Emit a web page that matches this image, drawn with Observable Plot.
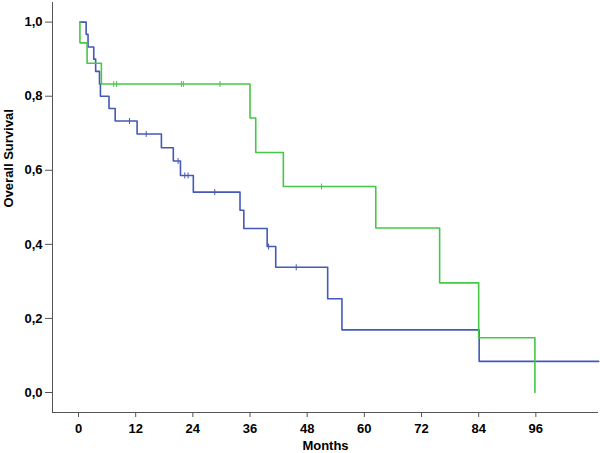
<!DOCTYPE html>
<html>
<head>
<meta charset="utf-8">
<script src="https://cdn.jsdelivr.net/npm/d3@7"></script>
<script src="https://cdn.jsdelivr.net/npm/@observablehq/plot@0.6"></script>
<style>
  html, body { margin: 0; padding: 0; background: #fff; }
  #chart svg { display: block; }
</style>
</head>
<body>
<div id="chart"></div>
<script>
// Kaplan–Meier steps, group A (blue)
const blueTimes  = [0.3, 1.6, 2.0, 3.2, 3.6, 4.4, 4.6, 6.4, 7.7, 12.3, 17.4, 19.9, 21.4, 24.1, 33.9, 34.7, 39.6, 41.4, 52.3, 55.3, 84.1, 109.2];
const blueSurv   = [1.0, 0.967, 0.933, 0.9, 0.867, 0.833, 0.8, 0.767, 0.733, 0.698, 0.661, 0.625, 0.586, 0.541, 0.492, 0.443, 0.394, 0.338, 0.253, 0.169, 0.084, 0.084];
const blueCensor = [10.7, 14.2, 20.9, 22.3, 23.0, 28.6, 39.9, 45.7];

// group B (green)
const greenTimes  = [0.3, 0.3, 1.8, 4.8, 36.0, 37.2, 43.0, 62.4, 75.8, 84.0, 95.8];
const greenSurv   = [1.0, 0.944, 0.889, 0.833, 0.741, 0.648, 0.556, 0.444, 0.296, 0.148, 0.0];
const greenCensor = [7.4, 8.0, 21.6, 22.0, 29.7, 51.0];

const xTicks = [0, 12, 24, 36, 48, 60, 72, 84, 96];
const yTicks = [0, 0.2, 0.4, 0.6, 0.8, 1.0];
const xDomain = [-5.46, 109.15];
const yDomain = [-0.054, 1.053];
const xLabel = "Months";
const yLabel = "Overall Survival";

const blueColor = "#4459b8";
const greenColor = "#45c845";

function steps(times, surv, group) {
  return times.map((t, i) => ({t, s: surv[i], group}));
}
function survAt(times, surv, t) {
  let v = surv[0];
  for (let i = 0; i < times.length; i++) if (times[i] <= t) v = surv[i];
  return v;
}
function censors(ct, times, surv, group) {
  return ct.map(t => ({t, s: survAt(times, surv, t), group}));
}

const blueData = steps(blueTimes, blueSurv, "A");
const greenData = steps(greenTimes, greenSurv, "B");
const blueCens = censors(blueCensor, blueTimes, blueSurv, "A");
const greenCens = censors(greenCensor, greenTimes, greenSurv, "B");

const vbar = {
  draw(context, size) {
    const h = Math.sqrt(size / Math.PI);
    context.moveTo(0, -h);
    context.lineTo(0, h);
  }
};

const chart = Plot.plot({
  width: 600,
  height: 453,
  marginLeft: 52,
  marginRight: 2,
  marginTop: 2,
  marginBottom: 41,
  style: {fontFamily: "'Liberation Sans', Arial, sans-serif", fontSize: "13px", fontWeight: "bold", color: "#000", background: "#fff"},
  x: {domain: xDomain},
  y: {domain: yDomain},
  marks: [
    Plot.axisX({ticks: xTicks, tickSize: 5, tickPadding: 6, stroke: "#555", label: null, fill: "#000"}),
    Plot.axisY({ticks: yTicks, tickSize: 7, tickPadding: 3, stroke: "#555", tickFormat: d => d.toFixed(1).replace(".", ","), label: null, fill: "#000"}),
    Plot.text([xLabel], {frameAnchor: "bottom", text: d => d, dy: 33, lineAnchor: "middle", fill: "#000"}),
    Plot.text([yLabel], {frameAnchor: "left", text: d => d, dx: -44, rotate: -90, lineAnchor: "middle", fill: "#000"}),
    Plot.ruleX([xDomain[0]], {stroke: "#555", strokeWidth: 1}),
    Plot.ruleY([yDomain[0]], {stroke: "#555", strokeWidth: 1}),
    Plot.line(blueData, {x: "t", y: "s", curve: "step-after", stroke: blueColor, strokeWidth: 1.6}),
    Plot.dot(blueCens, {x: "t", y: "s", symbol: vbar, r: 3, stroke: blueColor, strokeWidth: 1, fill: "none"}),
    Plot.line(greenData, {x: "t", y: "s", curve: "step-after", stroke: greenColor, strokeWidth: 1.6}),
    Plot.dot(greenCens, {x: "t", y: "s", symbol: vbar, r: 3, stroke: greenColor, strokeWidth: 1, fill: "none"})
  ]
});
document.getElementById("chart").appendChild(chart);
</script>
</body>
</html>
